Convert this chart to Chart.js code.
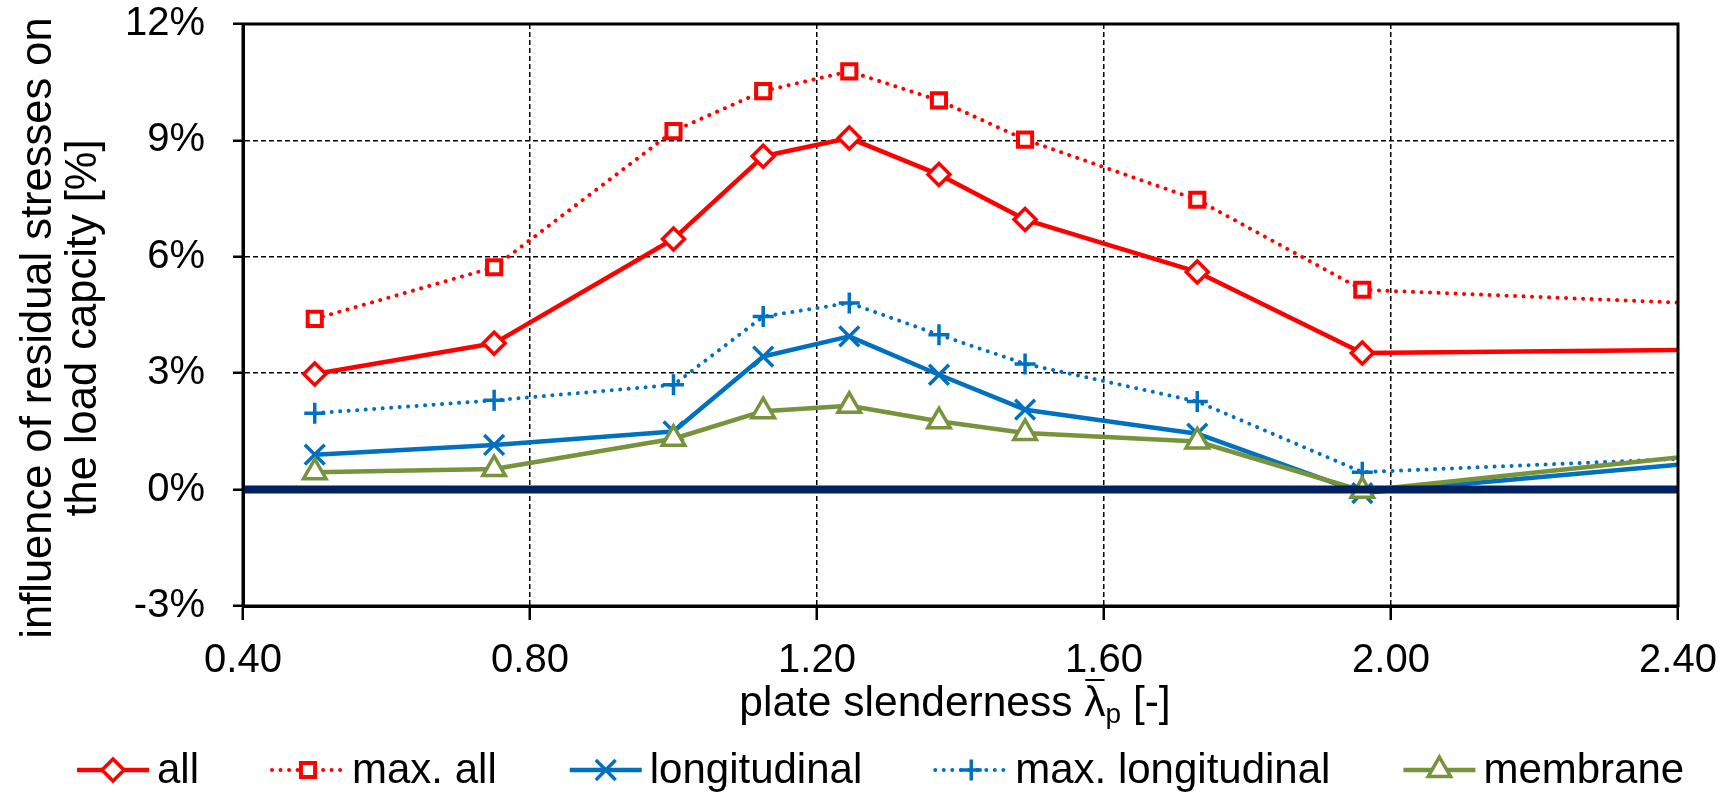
<!DOCTYPE html>
<html>
<head>
<meta charset="utf-8">
<script src="https://cdn.jsdelivr.net/npm/chart.js@4.4.1/dist/chart.umd.min.js"></script>
<style>
html,body{margin:0;padding:0;background:#fff;}
canvas{display:block;}
</style>
</head>
<body>
<canvas id="c" width="1736" height="795"></canvas>
<script>
// ---- data ----
const slenderness = [0.50, 0.75, 1.00, 1.125, 1.245, 1.37, 1.49, 1.73, 1.96, 2.40];
const allVals      = [2.98, 3.77, 6.46, 8.59, 9.06, 8.12, 6.96, 5.61, 3.52, 3.60];
const maxAllVals   = [4.40, 5.73, 9.24, 10.27, 10.78, 10.03, 9.02, 7.47, 5.15, 4.82];
const longVals     = [0.90, 1.15, 1.50, 3.43, 3.95, 2.96, 2.06, 1.44, -0.09, 0.64];
const maxLongVals  = [1.97, 2.30, 2.70, 4.46, 4.81, 3.99, 3.24, 2.27, 0.45, 0.79];
const membraneVals = [0.45, 0.53, 1.31, 2.02, 2.16, 1.76, 1.46, 1.24, -0.03, 0.83];
const zeroLineX = [0.40, 2.40];
const zeroLineY = [0, 0];
const seriesNames = ['all', 'max. all', 'longitudinal', 'max. longitudinal', 'membrane'];
const xTickMin = 0.40, xTickMax = 2.40, xTickStep = 0.40;
const yTickMin = -3, yTickMax = 12, yTickStep = 3;

const FONT = '"Liberation Sans", Arial, sans-serif';
const RED = '#FF0000', BLUE = '#0070C0', GREEN = '#77933C', NAVY = '#002060';

function pts(xs, ys) { return xs.map((x, i) => ({x: x, y: ys[i]})); }
function radii(r, n) { const a = new Array(n).fill(r); a[n - 1] = 0; return a; }

const styles = [
  {color: RED,   dash: [],         width: 4.5, ps: 'rectRot',  r: 11,  bw: 3.5},
  {color: RED,   dash: [0.01, 8.5],width: 4,   ps: 'rect',     r: 10,  bw: 4},
  {color: BLUE,  dash: [],         width: 4.5, ps: 'crossRot', r: 14,  bw: 3.5},
  {color: BLUE,  dash: [0.01, 8.5],width: 4,   ps: 'cross',    r: 10.5,bw: 3.5},
  {color: GREEN, dash: [],         width: 4.5, ps: 'triangle', r: 13,  bw: 3.5}
];
const seriesVals = [allVals, maxAllVals, longVals, maxLongVals, membraneVals];

const datasets = seriesVals.map((vals, i) => {
  const s = styles[i];
  return {
    label: seriesNames[i],
    data: pts(slenderness, vals),
    borderColor: s.color,
    borderWidth: s.width,
    borderDash: s.dash,
    borderCapStyle: s.dash.length ? 'round' : 'butt',
    borderJoinStyle: 'round',
    pointStyle: s.ps,
    pointRadius: radii(s.r, vals.length),
    pointBorderWidth: s.bw,
    pointBorderColor: s.color,
    pointBackgroundColor: '#FFFFFF',
    pointHoverRadius: 0,
    tension: 0,
    order: 5 - i
  };
});
datasets.push({
  label: 'zero',
  data: pts(zeroLineX, zeroLineY),
  borderColor: NAVY,
  borderWidth: 8,
  pointRadius: 0,
  order: -1
});

function drawMarker(ctx, style, x, y, r) {
  ctx.beginPath();
  if (style === 'rectRot') {
    ctx.moveTo(x - r, y); ctx.lineTo(x, y - r); ctx.lineTo(x + r, y); ctx.lineTo(x, y + r); ctx.closePath();
    ctx.fill(); ctx.stroke();
  } else if (style === 'rect') {
    const s = r * Math.SQRT1_2;
    ctx.rect(x - s, y - s, 2 * s, 2 * s); ctx.fill(); ctx.stroke();
  } else if (style === 'crossRot') {
    const s = r * Math.SQRT1_2;
    ctx.moveTo(x - s, y - s); ctx.lineTo(x + s, y + s);
    ctx.moveTo(x + s, y - s); ctx.lineTo(x - s, y + s); ctx.stroke();
  } else if (style === 'cross') {
    ctx.moveTo(x, y - r); ctx.lineTo(x, y + r);
    ctx.moveTo(x - r, y); ctx.lineTo(x + r, y); ctx.stroke();
  } else if (style === 'triangle') {
    const a = Math.PI * 2 / 3;
    ctx.moveTo(x, y - r);
    ctx.lineTo(x + Math.sin(a) * r, y - Math.cos(a) * r);
    ctx.lineTo(x - Math.sin(a) * r, y - Math.cos(a) * r);
    ctx.closePath(); ctx.fill(); ctx.stroke();
  }
}

const decor = {
  id: 'decor',
  afterDraw(chart) {
    const ctx = chart.ctx, a = chart.chartArea;
    ctx.save();
    // plot frame
    ctx.strokeStyle = '#000'; ctx.lineWidth = 3; ctx.setLineDash([]);
    ctx.strokeRect(a.left, a.top, a.right - a.left, a.bottom - a.top);

    ctx.fillStyle = '#000';
    // y title
    ctx.font = '43.5px ' + FONT;
    ctx.textAlign = 'center'; ctx.textBaseline = 'alphabetic';
    const yc = 328;
    [['influence of residual stresses on', 51], ['the load capcity [%]', 96]].forEach(([t, bx]) => {
      ctx.save(); ctx.translate(bx, yc); ctx.rotate(-Math.PI / 2); ctx.fillText(t, 0, 0); ctx.restore();
    });

    // x title with overlined lambda and subscript p
    ctx.textAlign = 'left';
    const p1 = 'plate slenderness ', lam = '\u03BB', sub = 'p', p2 = ' [-]';
    ctx.font = '42.5px ' + FONT;
    const w1 = ctx.measureText(p1).width, wl = ctx.measureText(lam).width, w2 = ctx.measureText(p2).width;
    ctx.font = '28px ' + FONT;
    const ws = ctx.measureText(sub).width;
    const total = w1 + wl + ws + w2;
    let x0 = 955 - total / 2;
    const base = 716;
    ctx.font = '42.5px ' + FONT;
    ctx.fillText(p1, x0, base);
    ctx.fillText(lam, x0 + w1, base);
    ctx.fillRect(x0 + w1 + 1, base - 37, wl - 2, 2);
    ctx.font = '28px ' + FONT;
    ctx.fillText(sub, x0 + w1 + wl, base + 7);
    ctx.font = '42.5px ' + FONT;
    ctx.fillText(p2, x0 + w1 + wl + ws, base);

    // legend
    const ly = 770, sampleW = 72, gapText = 8, gapItem = 73;
    let lx = 77;
    ctx.font = '42px ' + FONT;
    ctx.textBaseline = 'middle';
    seriesNames.forEach((name, i) => {
      const s = styles[i];
      ctx.strokeStyle = s.color; ctx.lineWidth = s.width;
      ctx.setLineDash(s.dash); ctx.lineCap = s.dash.length ? 'round' : 'butt';
      ctx.beginPath(); ctx.moveTo(lx, ly); ctx.lineTo(lx + sampleW, ly); ctx.stroke();
      ctx.setLineDash([]); ctx.lineCap = 'butt';
      ctx.lineWidth = s.bw; ctx.fillStyle = '#fff';
      drawMarker(ctx, s.ps, lx + sampleW / 2, ly, s.r);
      ctx.fillStyle = '#000';
      const tx = lx + sampleW + gapText;
      ctx.fillText(name, tx, ly + 1);
      lx = tx + ctx.measureText(name).width + gapItem;
    });
    ctx.restore();
  }
};

new Chart(document.getElementById('c'), {
  type: 'line',
  data: {datasets: datasets},
  options: {
    responsive: false,
    animation: false,
    devicePixelRatio: 1,
    layout: {padding: {left: 0, right: 58, top: 24, bottom: 0}},
    plugins: {legend: {display: false}, tooltip: {enabled: false}},
    events: [],
    scales: {
      x: {
        type: 'linear',
        min: xTickMin, max: xTickMax,
        afterFit(s) { s.height = 189; s.paddingLeft = 0; s.paddingRight = 0; },
        ticks: {
          stepSize: xTickStep,
          color: '#000',
          font: {family: FONT, size: 40},
          padding: 17,
          maxRotation: 0,
          callback: v => Number(v).toFixed(2)
        },
        grid: {
          color: '#000', lineWidth: 1.5,
          drawTicks: true, tickLength: 14, tickColor: '#000', tickWidth: 2.5,
          tickBorderDash: []
        },
        border: {display: true, color: '#000', width: 3, dash: [5, 3]}
      },
      y: {
        min: yTickMin, max: yTickMax,
        afterFit(s) { s.width = 243; s.paddingTop = 0; s.paddingBottom = 0; },
        ticks: {
          stepSize: yTickStep,
          color: '#000',
          font: {family: FONT, size: 40},
          padding: 28,
          callback: v => v + '%'
        },
        grid: {
          color: '#000', lineWidth: 1.5,
          drawTicks: true, tickLength: 10, tickColor: '#000', tickWidth: 2.5,
          tickBorderDash: []
        },
        border: {display: true, color: '#000', width: 3, dash: [5, 3]}
      }
    }
  },
  plugins: [decor]
});
</script>
</body>
</html>
